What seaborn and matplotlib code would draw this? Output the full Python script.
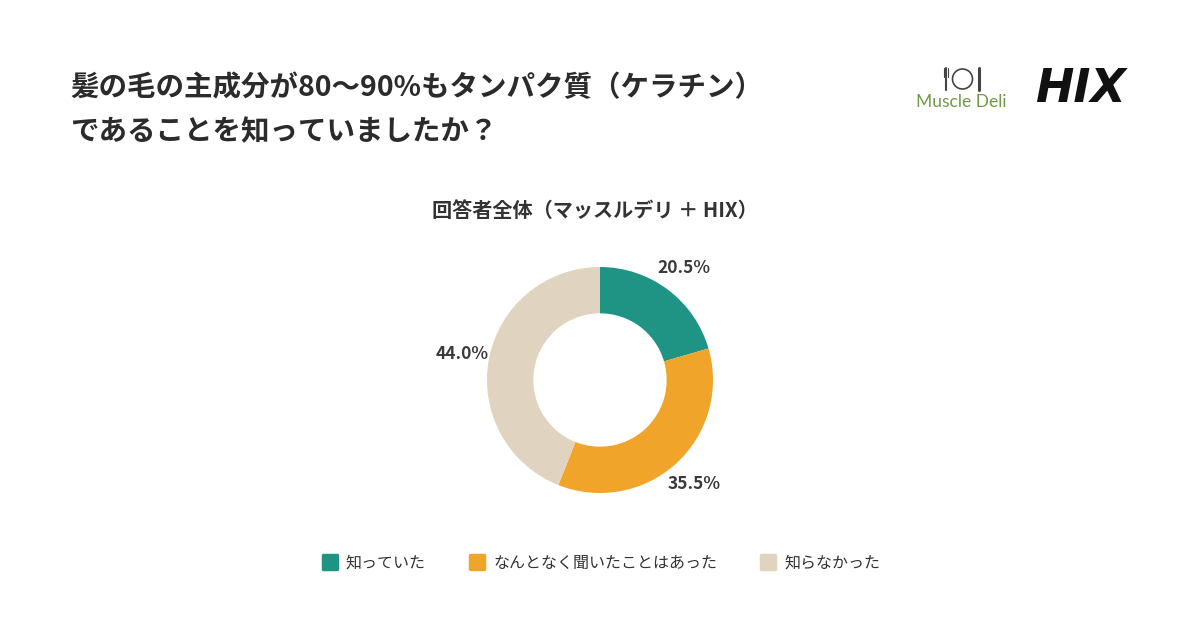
import matplotlib
matplotlib.use("Agg")
import matplotlib.pyplot as plt
from matplotlib.lines import Line2D
from matplotlib.markers import MarkerStyle
from matplotlib.patches import Circle
import seaborn as sns

sns.set_theme(style="white")
plt.rcParams['font.family'] = ['Noto Sans CJK JP', 'DejaVu Sans']

# ---- data ----
categories = ["知っていた", "なんとなく聞いたことはあった", "知らなかった"]
values = [20.5, 35.5, 44.0]
colors = ["#1f9485", "#f0a42a", "#e0d3bf"]
title_lines = ["髪の毛の主成分が80〜90%もタンパク質（ケラチン）", "であることを知っていましたか？"]
subtitle = "回答者全体（マッスルデリ ＋ HIX）"

W, H = 1200, 630
fig = plt.figure(figsize=(12, 6.3), dpi=100, facecolor="white")

def fx(px):
    return px / W

def fy(py):
    return 1 - py / H

# title
fig.text(fx(70), fy(88), title_lines[0], fontsize=20.5, fontweight="bold",
         color="#2b2b2b", ha="left", va="center")
fig.text(fx(70), fy(132), title_lines[1], fontsize=20.5, fontweight="bold",
         color="#2b2b2b", ha="left", va="center")

# subtitle
fig.text(fx(595), fy(210), subtitle, fontsize=14.5, fontweight="bold",
         color="#333333", ha="center", va="center")

# donut
cx, cy, r = 600, 380, 113
ax = fig.add_axes([fx(cx - r), fy(cy + r), 2 * r / W, 2 * r / H])
wedges, texts, autotexts = ax.pie(
    values, colors=colors, startangle=90, counterclock=False,
    radius=1.0, wedgeprops=dict(width=0.41, edgecolor="none"),
    autopct=lambda p: f"{p:.1f}%", pctdistance=1.24,
    textprops=dict(fontsize=12.5, fontweight="bold", color="#3a3a3a"))
ax.set_xlim(-1, 1)
ax.set_ylim(-1, 1)
ax.set_aspect("equal")
ax.axis("off")

# legend
handles = [Line2D([0], [0], marker=MarkerStyle("s", joinstyle="round"), linestyle="none",
                  markersize=10.5, markerfacecolor=c, markeredgecolor=c, markeredgewidth=2.5)
           for c in colors]
leg = fig.legend(handles, categories, loc="center", bbox_to_anchor=(fx(601), fy(563)),
                 ncol=3, frameon=False, fontsize=11.5, handletextpad=0.5,
                 columnspacing=2.7, handlelength=1.0)
for t in leg.get_texts():
    t.set_color("#333333")

# logos
lax = fig.add_axes([fx(940), fy(92), 45 / W, 26 / H])
lax.set_xlim(0, 45)
lax.set_ylim(0, 26)
lax.axis("off")
lax.patch.set_visible(False)
lax.add_patch(Circle((22.5, 13), 10, fill=False, lw=1.2, ec="#444444"))
lax.plot([6, 6], [2, 24], color="#444444", lw=1.5)
lax.plot([4, 4], [15, 24], color="#444444", lw=0.8)
lax.plot([8, 8], [15, 24], color="#444444", lw=0.8)
lax.plot([39, 39], [2, 24], color="#444444", lw=2.2, solid_capstyle="round")
fig.text(fx(961), fy(102), "Muscle Deli", fontsize=12.5, color="#6f9a45",
         ha="center", va="center", family=["Lato", "DejaVu Sans"], zorder=10)

fig.text(fx(1080), fy(89), "HIX", fontsize=33, fontweight="black", fontstyle="italic",
         color="#111111", ha="center", va="center", family=["DejaVu Sans"])

fig.savefig("out.png", dpi=100, facecolor="white")
